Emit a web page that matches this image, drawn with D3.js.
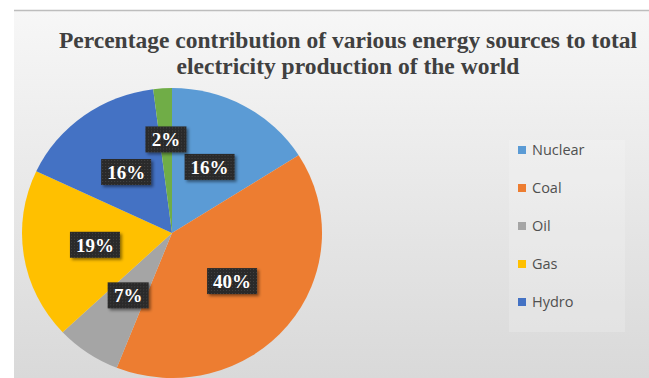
<!DOCTYPE html>
<html>
<head>
<meta charset="utf-8">
<script src="https://cdn.jsdelivr.net/npm/d3@7"></script>
<style>
  html, body { margin: 0; padding: 0; background: #fff; }
  svg { display: block; }
</style>
</head>
<body>
<svg id="chart" width="649" height="378"></svg>
<script>
const sources = ['Nuclear', 'Coal', 'Oil', 'Gas', 'Hydro', 'Other'];
const shares = [16, 40, 7, 19, 16, 2];
const legendNames = ['Nuclear', 'Coal', 'Oil', 'Gas', 'Hydro'];
const titleLines = ['Percentage contribution of various energy sources to total',
                    'electricity production of the world'];

(function() {
  const width = 649, height = 378;
  const svg = d3.select('#chart');
  const colour = d3.scaleOrdinal()
    .domain(sources)
    .range(['#5b9bd5', '#ed7d31', '#a5a5a5', '#ffc000', '#4472c4', '#70ad47']);

  const defs = svg.append('defs');
  let bg = defs.append('linearGradient').attr('id', 'bg')
    .attr('x1', 0).attr('y1', 0).attr('x2', 0).attr('y2', 1);
  bg.append('stop').attr('offset', '0%').attr('stop-color', '#f7f7f7');
  bg.append('stop').attr('offset', '100%').attr('stop-color', '#d9d9d9');
  let pat = defs.append('pattern').attr('id', 'dots')
    .attr('width', 3).attr('height', 3).attr('patternUnits', 'userSpaceOnUse');
  pat.append('rect').attr('width', 3).attr('height', 3).attr('fill', '#2a2a2a');
  pat.append('rect').attr('width', 1).attr('height', 1).attr('fill', '#444');
  let sh = defs.append('filter').attr('id', 'shadow')
    .attr('x', '-20%').attr('y', '-20%').attr('width', '150%').attr('height', '150%');
  sh.append('feDropShadow').attr('dx', 2).attr('dy', 2).attr('stdDeviation', 1.5)
    .attr('flood-color', '#000').attr('flood-opacity', 0.45);

  // chart area
  svg.append('rect').attr('x', 14).attr('y', 10)
    .attr('width', width - 14).attr('height', height - 10)
    .attr('fill', 'url(#bg)');
  svg.append('line').attr('x1', 14).attr('x2', width).attr('y1', 10.5).attr('y2', 10.5)
    .attr('stroke', '#bdbdbd').attr('stroke-width', 1.5);

  svg.append('text')
    .attr('x', 348).attr('y', 48)
    .attr('text-anchor', 'middle')
    .style('font-family', '"Liberation Serif", "Times New Roman", serif')
    .style('font-weight', 'bold').style('font-size', '23.5px')
    .attr('fill', '#404040')
    .selectAll('tspan').data(titleLines).join('tspan')
    .attr('x', 348).attr('dy', (d, i) => i ? 26 : 0)
    .text(d => d);

  // pie
  const cx = 172, cy = 233, r = 150, squash = 145 / 150;
  const data = sources.map((s, i) => ({source: s, value: shares[i]}));
  const pie = d3.pie().sort(null).value(d => d.value);
  const arc = d3.arc().innerRadius(0).outerRadius(r);
  const arcs = pie(data);

  svg.append('g')
    .attr('transform', 'translate(' + cx + ',' + cy + ') scale(1,' + squash + ')')
    .selectAll('path')
    .data(arcs)
    .join('path')
    .attr('d', arc)
    .attr('fill', d => colour(d.data.source));

  // labels
  let labels = svg.append('g')
    .style('font-family', '"Liberation Serif", "Times New Roman", serif')
    .style('font-weight', 'bold').style('font-size', '19px');
  arcs.forEach(a => {
    let mid = (a.startAngle + a.endAngle) / 2;
    let lr = (a.endAngle - a.startAngle) < 0.3 ? 97 : 78;
    let x = cx + lr * Math.sin(mid);
    let y = cy - lr * Math.cos(mid) * squash;
    let txt = d3.format('.0f')(a.data.value) + '%';
    let w = txt.length > 2 ? 50 : 41;
    let g = labels.append('g').attr('transform', 'translate(' + x + ',' + y + ')');
    g.append('rect').attr('x', -w / 2).attr('y', -13).attr('width', w).attr('height', 26)
      .attr('fill', 'url(#dots)').attr('filter', 'url(#shadow)');
    g.append('text').attr('text-anchor', 'middle').attr('y', 7)
      .attr('fill', '#fff').text(txt);
  });

  // legend
  svg.append('rect').attr('x', 509).attr('y', 140).attr('width', 116).attr('height', 192)
    .attr('fill', '#fff').attr('fill-opacity', 0.18);
  let legendY = d3.scalePoint().domain(legendNames).range([150, 302]);
  let items = svg.append('g').selectAll('g').data(legendNames).join('g')
    .attr('transform', d => 'translate(518,' + legendY(d) + ')');
  items.append('rect').attr('y', -4).attr('width', 8).attr('height', 8)
    .attr('fill', d => colour(d));
  items.append('text').attr('x', 14).attr('y', 5)
    .style('font-family', '"Open Sans", Lato, sans-serif').style('font-size', '14.5px')
    .attr('fill', '#505050').text(d => d);
})();
</script>
</body>
</html>
